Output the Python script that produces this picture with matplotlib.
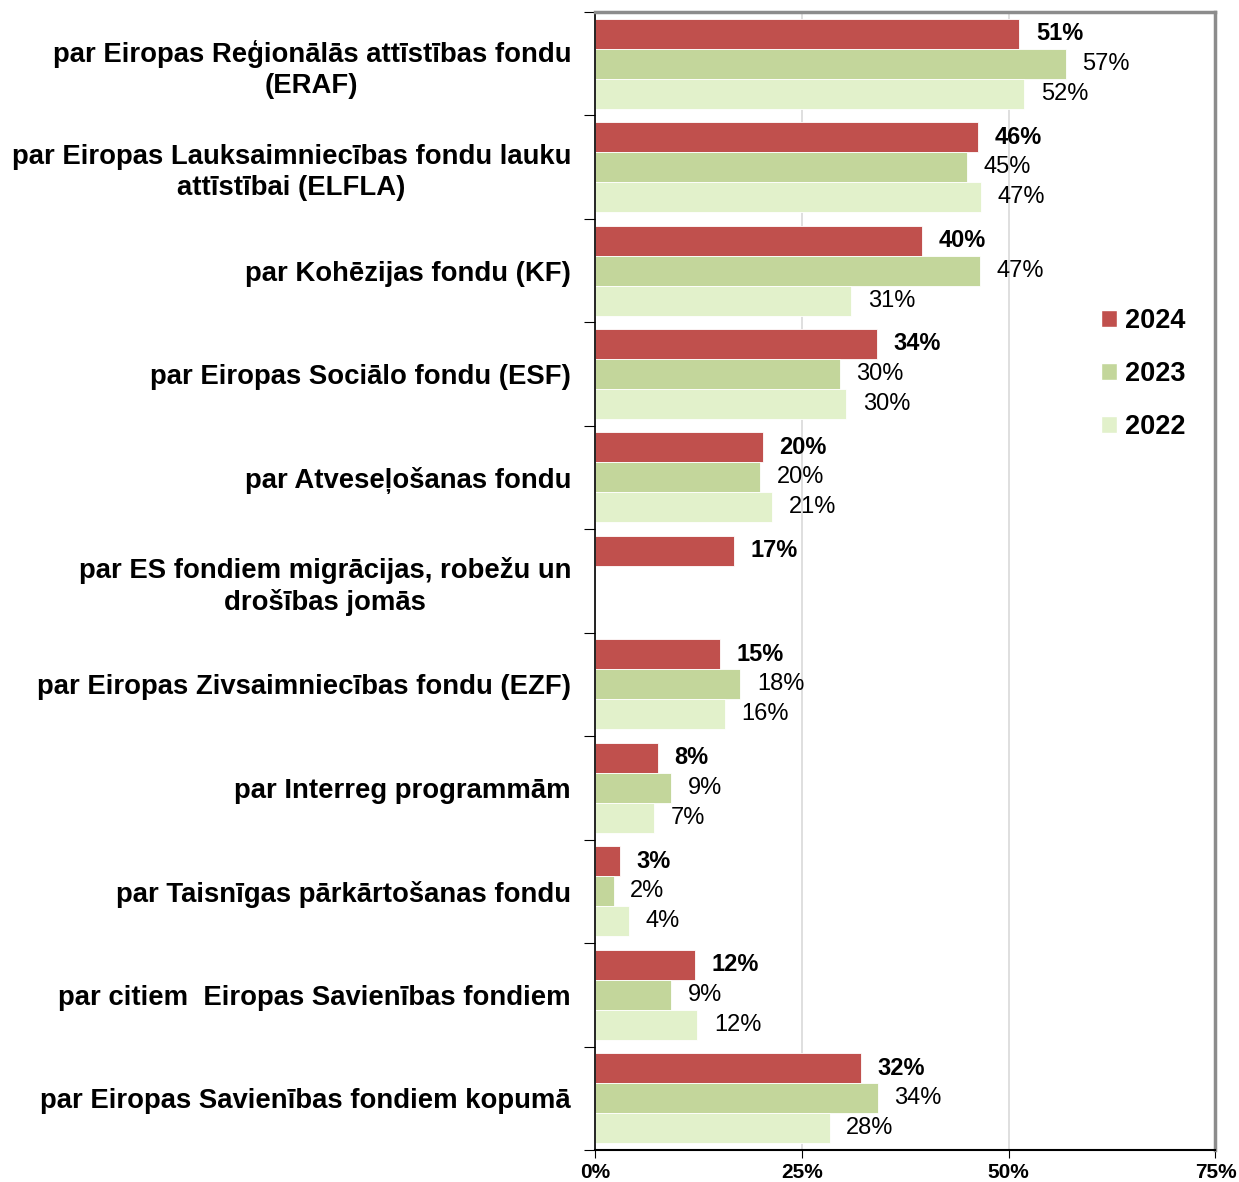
import matplotlib
matplotlib.use("Agg")
import matplotlib.pyplot as plt
from matplotlib.patches import Patch
import numpy as np

plt.rcParams['font.family'] = ['Liberation Sans', 'DejaVu Sans']

categories = [
    "par Eiropas Reģionālās attīstības fondu\n(ERAF)",
    "par Eiropas Lauksaimniecības fondu lauku\nattīstībai (ELFLA)",
    "par Kohēzijas fondu (KF)",
    "par Eiropas Sociālo fondu (ESF)",
    "par Atveseļošanas fondu",
    "par ES fondiem migrācijas, robežu un\ndrošības jomās",
    "par Eiropas Zivsaimniecības fondu (EZF)",
    "par Interreg programmām",
    "par Taisnīgas pārkārtošanas fondu",
    "par citiem  Eiropas Savienības fondiem",
    "par Eiropas Savienības fondiem kopumā",
]
v2024 = [51.3, 46.3, 39.6, 34.1, 20.3, 16.8, 15.1, 7.6, 3.0, 12.1, 32.2]
v2023 = [56.9, 45.0, 46.6, 29.6, 20.0, None, 17.6, 9.2, 2.3, 9.2, 34.2]
v2022 = [51.9, 46.7, 31.0, 30.4, 21.4, None, 15.7, 7.2, 4.1, 12.4, 28.4]
series = [("2024", v2024, "#C0504D", "bold"),
          ("2023", v2023, "#C3D69B", "normal"),
          ("2022", v2022, "#E2F1CB", "normal")]
xticks = [0, 25, 50, 75]

fig = plt.figure(figsize=(12.39, 11.82), dpi=100)
ax = fig.add_axes([0.480, 0.027, 0.501, 0.963])

n = len(categories)
y = np.arange(n)
h = 0.29
handles = []
for i, (name, vals, col, wt) in enumerate(series):
    pos = y + (i - 1) * h
    for p, v in zip(pos, vals):
        if v is None:
            continue
        ax.barh(p, v, height=h, color=col, edgecolor="white", linewidth=0.6)
        ax.text(v + 2.0, p, "%d%%" % round(v), va="center", ha="left",
                fontsize=17, fontweight=wt, color="black")
    handles.append(Patch(facecolor=col, edgecolor="white", label=name))

ax.set_ylim(n - 0.5, -0.5)
ax.set_xlim(0, 75)
ax.set_xticks(xticks)
ax.set_xticklabels(["%d%%" % t for t in xticks], fontsize=15, fontweight="bold")
ax.set_yticks(np.arange(n + 1) - 0.5, minor=False)
ax.set_yticklabels([])
ax.set_yticks(y, minor=True)
ax.set_yticklabels(categories, minor=True, fontsize=19.8, fontweight="bold",
                   ha="right", multialignment="center", linespacing=1.25)
ax.tick_params(axis="y", which="minor", length=0, pad=17)
ax.tick_params(axis="y", which="major", length=8, direction="out", color="black")
ax.tick_params(axis="x", length=6, direction="out", pad=3)

ax.xaxis.grid(True, color="#D9D9D9", linewidth=1.2)
ax.set_axisbelow(True)
for s in ["top", "right"]:
    ax.spines[s].set_color("#8C8C8C")
    ax.spines[s].set_linewidth(2.5)
ax.spines["left"].set_color("black")
ax.spines["left"].set_linewidth(1.2)
ax.spines["bottom"].set_color("black")
ax.spines["bottom"].set_linewidth(1.5)

ax.legend(handles=handles, loc="upper left", bbox_to_anchor=(0.776, 0.761),
          frameon=False, prop={"size": 19.5, "weight": "bold"}, handlelength=0.6,
          handleheight=0.6, handletextpad=0.3, labelspacing=1.0)

fig.savefig("out.png", dpi=100)
